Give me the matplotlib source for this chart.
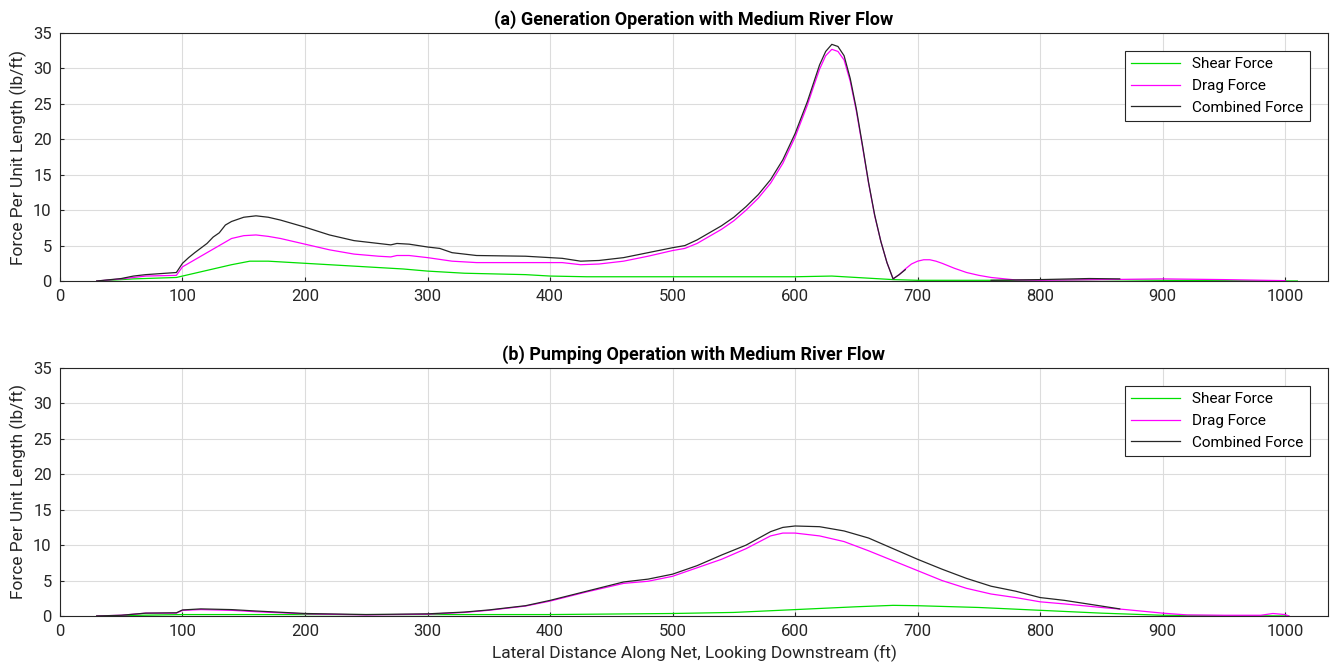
import matplotlib
matplotlib.use("Agg")
import matplotlib.pyplot as plt
import numpy as np

plt.rcParams['font.family'] = ['Roboto', 'DejaVu Sans']

# (a) generation operation
gen_shear_x = [30, 60, 95, 110, 130, 140, 155, 170, 200, 250, 280, 300, 330, 380, 400, 430, 500, 600, 630, 650, 680, 700, 800, 850, 900, 1010]
gen_shear_y = [0, 0.3, 0.5, 1.1, 1.9, 2.3, 2.8, 2.8, 2.5, 2.0, 1.7, 1.4, 1.1, 0.9, 0.7, 0.6, 0.6, 0.6, 0.7, 0.5, 0.2, 0.1, 0.1, 0.2, 0.1, 0]

gen_drag_x = [30, 50, 60, 70, 95, 100, 110, 120, 130, 140, 150, 160, 170, 180, 200, 220, 240, 260, 270, 275, 285, 300, 320, 340,
              380, 410, 425, 440, 460, 480, 500, 510, 520, 530, 540, 550, 560, 570, 580, 590, 600, 610, 615, 620, 625, 630,
              635, 640, 645, 650, 655, 660, 665, 670, 675, 680, 685, 690, 695, 700, 705, 710, 715, 720, 730, 740, 750,
              760, 780, 800, 850, 900, 950, 1000]
gen_drag_y = [0, 0.3, 0.5, 0.7, 0.8, 2.0, 3.0, 4.0, 5.0, 6.0, 6.4, 6.5, 6.3, 6.0, 5.2, 4.4, 3.8, 3.5, 3.4, 3.6, 3.6, 3.3, 2.8, 2.6,
              2.6, 2.6, 2.3, 2.4, 2.8, 3.5, 4.3, 4.6, 5.3, 6.3, 7.3, 8.5, 10.0, 11.7, 13.8, 16.6, 20.3, 24.8, 27.4, 29.9, 31.8, 32.7,
              32.4, 31.2, 28.2, 24.0, 19.0, 13.8, 9.2, 5.6, 2.6, 0.3, 0.9, 1.7, 2.4, 2.8, 3.0, 3.0, 2.8, 2.5, 1.8, 1.2, 0.8,
              0.5, 0.15, 0.1, 0.2, 0.3, 0.2, 0.05]

gen_comb_x = [30, 50, 60, 70, 95, 100, 105, 110, 120, 125, 130, 135, 140, 150, 160, 170, 180, 200, 220, 240, 260, 270, 275, 285, 300,
              310, 320, 340, 380, 400, 410, 425, 440, 460, 480, 500, 510, 520, 530, 540, 550, 560, 570, 580, 590, 600, 610,
              615, 620, 625, 630, 635, 640, 645, 650, 655, 660, 665, 670, 675, 680, 685, 690, 692, 760, 800, 840, 865]
gen_comb_y = [0, 0.35, 0.7, 0.9, 1.2, 2.5, 3.3, 4.0, 5.3, 6.2, 6.8, 7.9, 8.4, 9.0, 9.2, 9.0, 8.6, 7.6, 6.5, 5.7, 5.3, 5.1, 5.3, 5.2, 4.8,
              4.6, 4.0, 3.6, 3.5, 3.3, 3.2, 2.8, 2.9, 3.3, 4.0, 4.7, 5.0, 5.8, 6.8, 7.8, 9.0, 10.5, 12.2, 14.3, 17.1, 20.8, 25.3,
              27.9, 30.5, 32.4, 33.4, 33.1, 31.8, 28.6, 24.3, 19.2, 13.9, 9.3, 5.6, 2.6, 0.3, 0.9, 1.6, np.nan, 0.1, 0.2, 0.35, 0.3]

# (b) pumping operation
pump_shear_x = [30, 100, 200, 300, 400, 500, 550, 600, 650, 680, 700, 750, 800, 850, 900, 950, 1003]
pump_shear_y = [0, 0.2, 0.2, 0.2, 0.2, 0.35, 0.5, 0.9, 1.3, 1.5, 1.45, 1.2, 0.8, 0.4, 0.1, 0.05, 0]

pump_drag_x = [30, 50, 70, 95, 100, 115, 140, 160, 200, 250, 300, 330, 350, 380, 400, 430, 460, 480, 500, 520, 540, 560, 580,
               590, 600, 620, 640, 660, 680, 700, 720, 740, 760, 780, 800, 820, 850, 870, 900, 920, 950, 980, 990, 1000, 1003]
pump_drag_y = [0, 0.1, 0.4, 0.4, 0.8, 0.9, 0.8, 0.6, 0.3, 0.15, 0.25, 0.5, 0.8, 1.4, 2.1, 3.4, 4.6, 4.9, 5.6, 6.8, 8.0, 9.5, 11.3,
               11.7, 11.7, 11.3, 10.5, 9.2, 7.8, 6.4, 5.0, 3.9, 3.1, 2.6, 2.0, 1.7, 1.2, 0.9, 0.4, 0.15, 0.1, 0.1, 0.35, 0.2, 0]

pump_comb_x = [30, 50, 70, 95, 100, 115, 140, 160, 200, 250, 300, 330, 350, 380, 400, 430, 460, 480, 500, 520, 540, 560, 580,
               590, 600, 620, 640, 660, 680, 700, 720, 740, 760, 780, 800, 820, 850, 865]
pump_comb_y = [0, 0.1, 0.4, 0.45, 0.85, 1.0, 0.9, 0.7, 0.35, 0.2, 0.3, 0.55, 0.85, 1.45, 2.2, 3.5, 4.8, 5.2, 5.9, 7.1, 8.6, 10.0, 11.9,
               12.5, 12.7, 12.6, 12.0, 11.0, 9.5, 8.0, 6.6, 5.3, 4.2, 3.5, 2.6, 2.2, 1.4, 1.0]

titles = ['(a) Generation Operation with Medium River Flow', '(b) Pumping Operation with Medium River Flow']
series = [
    (gen_shear_x, gen_shear_y, gen_drag_x, gen_drag_y, gen_comb_x, gen_comb_y),
    (pump_shear_x, pump_shear_y, pump_drag_x, pump_drag_y, pump_comb_x, pump_comb_y),
]

fig = plt.figure(figsize=(13.3, 6.71), dpi=100)
ax_top = fig.add_axes([0.0451, 0.5812, 0.9534, 0.3696])
ax_bot = fig.add_axes([0.0451, 0.0820, 0.9534, 0.3696])

for ax, title, (sx, sy, dx, dy, cx, cy) in zip([ax_top, ax_bot], titles, series):
    ax.plot(sx, sy, color='#00e000', lw=0.9, label='Shear Force')
    ax.plot(dx, dy, color='#ff00ff', lw=0.9, label='Drag Force')
    ax.plot(cx, cy, color='#262626', lw=0.9, label='Combined Force')
    ax.set_xlim(0, 1035)
    ax.set_ylim(0, 35)
    ax.set_xticks(np.arange(0, 1001, 100))
    ax.set_yticks(np.arange(0, 36, 5))
    ax.grid(True, color='#dcdcdc', lw=0.8)
    ax.set_axisbelow(True)
    ax.tick_params(direction='in', length=3, labelsize=12, colors='#262626', pad=6)
    for sp in ax.spines.values():
        sp.set_color('#262626')
        sp.set_linewidth(0.8)
    ax.set_title(title, fontsize=13, fontweight='bold', pad=6)
    ax.set_ylabel('Force Per Unit Length (lb/ft)', fontsize=12.5, color='#262626', labelpad=4)
    leg = ax.legend(loc='upper right', fontsize=11, fancybox=False, framealpha=1,
                    edgecolor='#262626', handlelength=3.2, borderaxespad=1.2)
    leg.get_frame().set_linewidth(0.8)

ax_bot.set_xlabel('Lateral Distance Along Net, Looking Downstream (ft)', fontsize=12.5, color='#262626', labelpad=4)

fig.savefig('out.png', dpi=100)
